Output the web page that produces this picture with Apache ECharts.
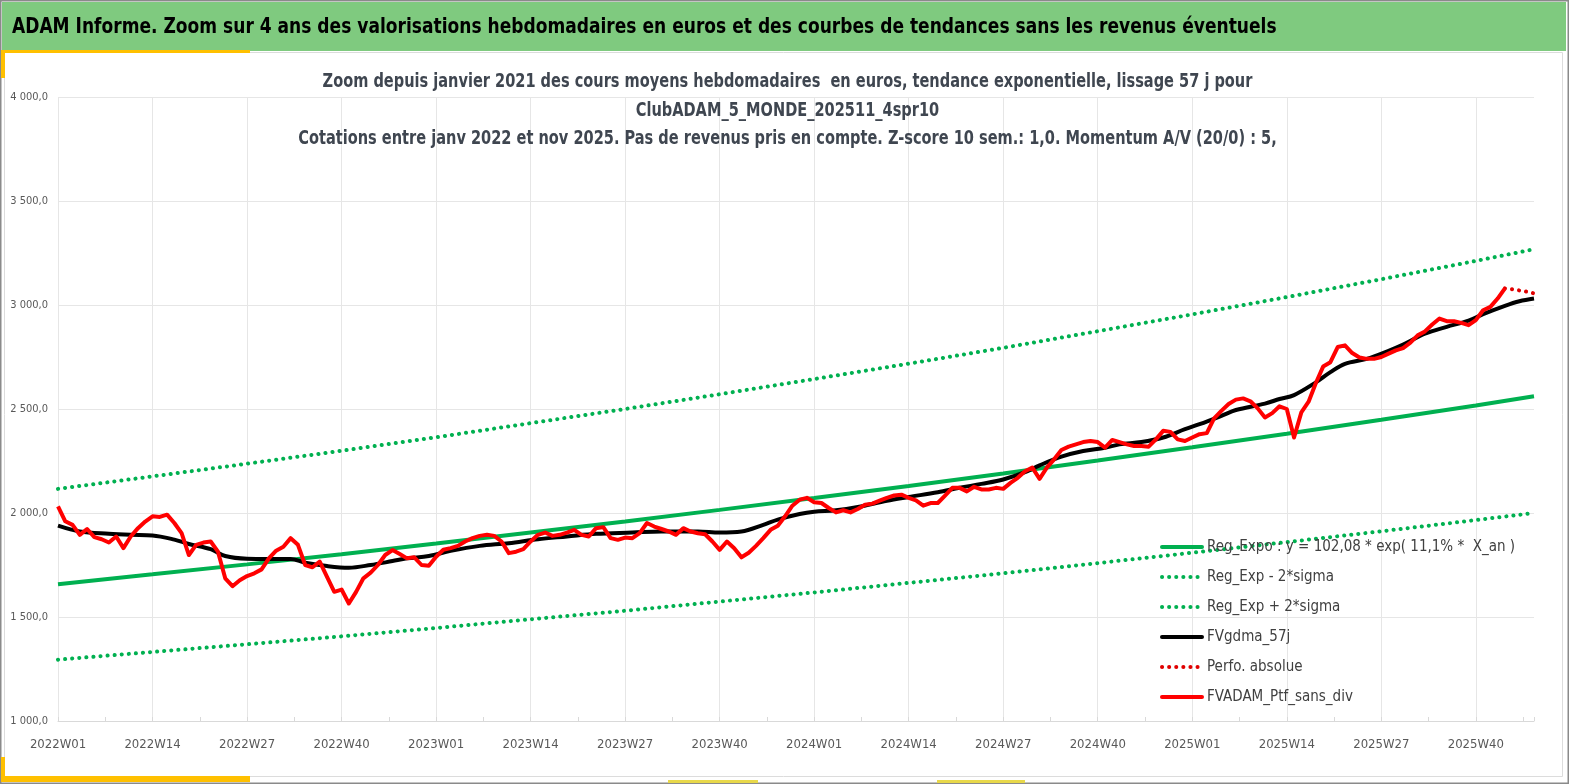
<!DOCTYPE html>
<html>
<head>
<meta charset="utf-8">
<script src="https://cdn.jsdelivr.net/npm/echarts@6/dist/echarts.min.js"></script>
<style>
html,body{margin:0;padding:0;background:#fff;}
#chart{width:1569px;height:784px;}
</style>
</head>
<body>
<div id="chart"></div>
<script>
// ---- Data ----
const years = [2022, 2023, 2024, 2025];
const weeksInYear = [52, 52, 52, 48];

// FVADAM_Ptf_sans_div : weekly values
const red2022 = [2032,1960,1943,1895,1923,1884,1874,1858,1887,1831,
  1887,1927,1959,1984,1981,1992,1952,1903,1798,1847,
  1858,1863,1814,1686,1648,1677,1697,1710,1729,1782,
  1819,1838,1879,1847,1750,1739,1766,1693,1621,1632,
  1565,1621,1686,1713,1750,1798,1822,1803,1782,1787,
  1750,1746];
const red2023 = [1790,1823,1831,1842,1863,1879,1890,1895,1890,1863,
  1807,1814,1826,1863,1895,1906,1890,1895,1906,1919,
  1895,1887,1927,1932,1879,1871,1882,1879,1903,1952,
  1935,1923,1911,1895,1927,1911,1903,1898,1863,1823,
  1863,1831,1787,1809,1842,1879,1919,1939,1984,2035,
  2064,2073];
const red2024 = [2052,2048,2024,2003,2013,2003,2019,2040,2045,2059,
  2073,2084,2088,2073,2061,2035,2048,2048,2084,2121,
  2121,2104,2126,2113,2113,2121,2116,2145,2169,2201,
  2218,2164,2218,2258,2303,2319,2330,2341,2346,2341,
  2314,2351,2341,2330,2322,2322,2319,2354,2395,2390,
  2354,2346];
const red2025 = [2363,2379,2384,2455,2491,2524,2545,2551,2537,2503,
  2459,2480,2513,2500,2363,2484,2535,2625,2704,2725,
  2798,2806,2769,2748,2741,2741,2750,2766,2782,2793,
  2819,2854,2873,2906,2935,2922,2922,2914,2903,2927,
  2975,2991,3031,3080,null,null,null,null];

// Perfo. absolue (dotted red tail)
const perfoWeeks = [199, 200, 201, 202, 203];
const perfoValues = [3080, 3076, 3070, 3064, 3056];

// FVgdma_57j (black smoothed line), readings at given week indexes
const blackWeeks = [0,3,7,10,13,16,18,21,23,26,29,32,34,37,40,43,46,48,51,54,
  58,62,66,70,74,79,83,88,91,94,97,99,102,104,107,110,114,117,121,124,
  127,130,133,135,138,141,144,146,149,152,155,157,160,162,166,168,170,173,175,177,
  180,183,185,188,191,194,196,199,201,203];
const blackValues = [1939,1911,1900,1895,1892,1872,1851,1826,1793,1780,
  1779,1779,1761,1745,1737,1750,1769,1782,1793,1818,
  1842,1855,1874,1887,1900,1906,1911,1911,1906,1911,
  1943,1968,1995,2006,2013,2029,2059,2077,2100,2121,
  2140,2161,2196,2229,2271,2298,2314,2330,2341,2363,
  2403,2427,2467,2495,2526,2548,2567,2628,2677,2717,
  2741,2780,2810,2862,2895,2925,2956,2996,3018,3031];

// Trend lines, readings every 13 weeks
const trendWeeks = [0,13,26,39,52,65,78,91,104,117,130,143,156,169,182,195,203];
const regExpo = [1658,1705,1753,1802,1853,1906,1959,2015,2072,2130,2190,2252,2316,2381,2448,2517,2561];
const regMinus = [1295,1332,1369,1407,1447,1489,1530,1574,1618,1664,1710,1759,1809,1860,1912,1966,2000];
const regPlus = [2116,2176,2237,2299,2364,2432,2500,2571,2644,2718,2794,2874,2955,3038,3124,3212,3268];

const seriesNames = [
  'Reg_Expo : y = 102,08 * exp( 11,1% *  X_an )',
  'Reg_Exp - 2*sigma',
  'Reg_Exp + 2*sigma',
  'FVgdma_57j',
  'Perfo. absolue',
  'FVADAM_Ptf_sans_div'
];
const mainTitle = 'ADAM Informe. Zoom sur 4 ans des valorisations hebdomadaires en euros et des courbes de tendances sans les revenus éventuels';
const subTitleLines = [
  'Zoom depuis janvier 2021 des cours moyens hebdomadaires  en euros, tendance exponentielle, lissage 57 j pour',
  'ClubADAM_5_MONDE_202511_4spr10',
  'Cotations entre janv 2022 et nov 2025. Pas de revenus pris en compte. Z-score 10 sem.: 1,0. Momentum A/V (20/0) : 5,'
];

// ---- Build ----
const categories = [];
years.forEach((y, i) => {
  for (let w = 1; w <= weeksInYear[i]; w++) categories.push(y + 'W' + String(w).padStart(2, '0'));
});
const redValues = red2022.concat(red2023, red2024, red2025);
const zip = (a, b) => a.map((x, i) => [x, b[i]]);

const FONT = '"DejaVu Sans Condensed", "Liberation Sans Narrow", "Liberation Sans", sans-serif';
const GREEN = '#00b050';
const dotStyle = (color) => ({ color: color, width: 4, type: [0.1, 7], cap: 'round' });

const subTitleY = [82, 111, 139.5];
const subTitleGraphics = subTitleLines.map((t, i) => ({
  type: 'text', x: 787.5, y: subTitleY[i], scaleX: 0.852, scaleY: 1, z: 10,
  style: { text: t, fontFamily: FONT, fontSize: 19, fontWeight: 'bold', fill: '#3f4650',
    align: 'center', verticalAlign: 'middle', textAlign: 'center', textVerticalAlign: 'middle' }
}));

const chart = echarts.init(document.getElementById('chart'), null, { renderer: 'canvas' });
chart.setOption({
  animation: false,
  backgroundColor: '#ffffff',
  graphic: [
    { type: 'rect', shape: { x: 0.75, y: 0.75, width: 1567.5, height: 782.5 }, style: { fill: null, stroke: '#8a8a8a', lineWidth: 1.5 }, z: -10 },
    { type: 'rect', shape: { x: 2, y: 2, width: 1564, height: 49 }, style: { fill: '#7fca7f' }, z: -9 },
    { type: 'rect', shape: { x: 4.5, y: 52.5, width: 1558, height: 724 }, style: { fill: null, stroke: '#dcdcdc', lineWidth: 1 }, z: -8 },
    { type: 'rect', shape: { x: 1, y: 50, width: 249, height: 3 }, style: { fill: '#ffc000' }, z: -7 },
    { type: 'rect', shape: { x: 1, y: 50, width: 4, height: 28 }, style: { fill: '#ffc000' }, z: -7 },
    { type: 'rect', shape: { x: 1, y: 776, width: 249, height: 6 }, style: { fill: '#ffc000' }, z: -7 },
    { type: 'rect', shape: { x: 1, y: 757, width: 4, height: 25 }, style: { fill: '#ffc000' }, z: -7 },
    { type: 'rect', shape: { x: 668, y: 780, width: 90, height: 3 }, style: { fill: '#e8d84a' }, z: -7 },
    { type: 'rect', shape: { x: 937, y: 780, width: 88, height: 3 }, style: { fill: '#e8d84a' }, z: -7 },
    { type: 'text', x: 12, y: 28, scaleX: 0.926, scaleY: 1, z: 10,
      style: { text: mainTitle, fontFamily: FONT, fontSize: 20.5, fontWeight: 'bold', fill: '#000000',
        align: 'left', verticalAlign: 'middle', textAlign: 'left', textVerticalAlign: 'middle' } }
  ].concat(subTitleGraphics),
  legend: {
    orient: 'vertical', left: 1155, top: 534,
    itemWidth: 40, itemHeight: 16, itemGap: 14,
    data: seriesNames,
    itemStyle: { color: 'rgba(0,0,0,0)', borderWidth: 0, opacity: 0 },
    lineStyle: { width: 4, cap: 'round' },
    textStyle: { fontFamily: FONT, fontSize: 15, color: '#404040', lineHeight: 16 }
  },
  grid: { left: 58, right: 35, top: 97, bottom: 63, containLabel: false },
  xAxis: [
    {
      type: 'category', data: categories, boundaryGap: false,
      axisLine: { show: true, lineStyle: { color: '#d9d9d9', width: 1 } },
      axisTick: { show: false },
      axisLabel: { interval: 12, margin: 17, fontFamily: FONT, fontSize: 13, color: '#595959' },
      splitLine: { show: true, interval: 12, lineStyle: { color: '#e6e6e6', width: 1 } }
    },
    {
      type: 'value', min: 0, max: 203, interval: 6.5, position: 'bottom',
      axisLine: { show: false }, axisLabel: { show: false }, splitLine: { show: false },
      axisTick: { show: true, inside: true, length: 4, lineStyle: { color: '#d9d9d9' } }
    }
  ],
  yAxis: {
    type: 'value', min: 1000, max: 4000, interval: 500,
    axisLine: { show: false }, axisTick: { show: false },
    axisLabel: {
      margin: 10, fontFamily: FONT, fontSize: 11, color: '#595959',
      formatter: (v) => Math.floor(v / 1000) + ' ' + String(v % 1000).padStart(3, '0') + ',0'
    },
    splitLine: { show: true, lineStyle: { color: '#e6e6e6', width: 1 } }
  },
  series: [
    { name: seriesNames[0], type: 'line', data: zip(trendWeeks, regExpo), showSymbol: false, symbol: 'none',
      lineStyle: { color: GREEN, width: 4 }, itemStyle: { color: GREEN } },
    { name: seriesNames[1], type: 'line', data: zip(trendWeeks, regMinus), showSymbol: false, symbol: 'none',
      lineStyle: dotStyle(GREEN), itemStyle: { color: GREEN } },
    { name: seriesNames[2], type: 'line', data: zip(trendWeeks, regPlus), showSymbol: false, symbol: 'none',
      lineStyle: dotStyle(GREEN), itemStyle: { color: GREEN } },
    { name: seriesNames[3], type: 'line', data: zip(blackWeeks, blackValues), showSymbol: false, symbol: 'none', smooth: 0.35,
      lineStyle: { color: '#000000', width: 4, join: 'round' }, itemStyle: { color: '#000000' } },
    { name: seriesNames[4], type: 'line', data: zip(perfoWeeks, perfoValues), showSymbol: false, symbol: 'none',
      lineStyle: dotStyle('#e00000'), itemStyle: { color: '#e00000' } },
    { name: seriesNames[5], type: 'line', data: redValues, showSymbol: false, symbol: 'none',
      lineStyle: { color: '#ff0000', width: 4, join: 'round' }, itemStyle: { color: '#ff0000' } }
  ]
});
</script>
</body>
</html>
